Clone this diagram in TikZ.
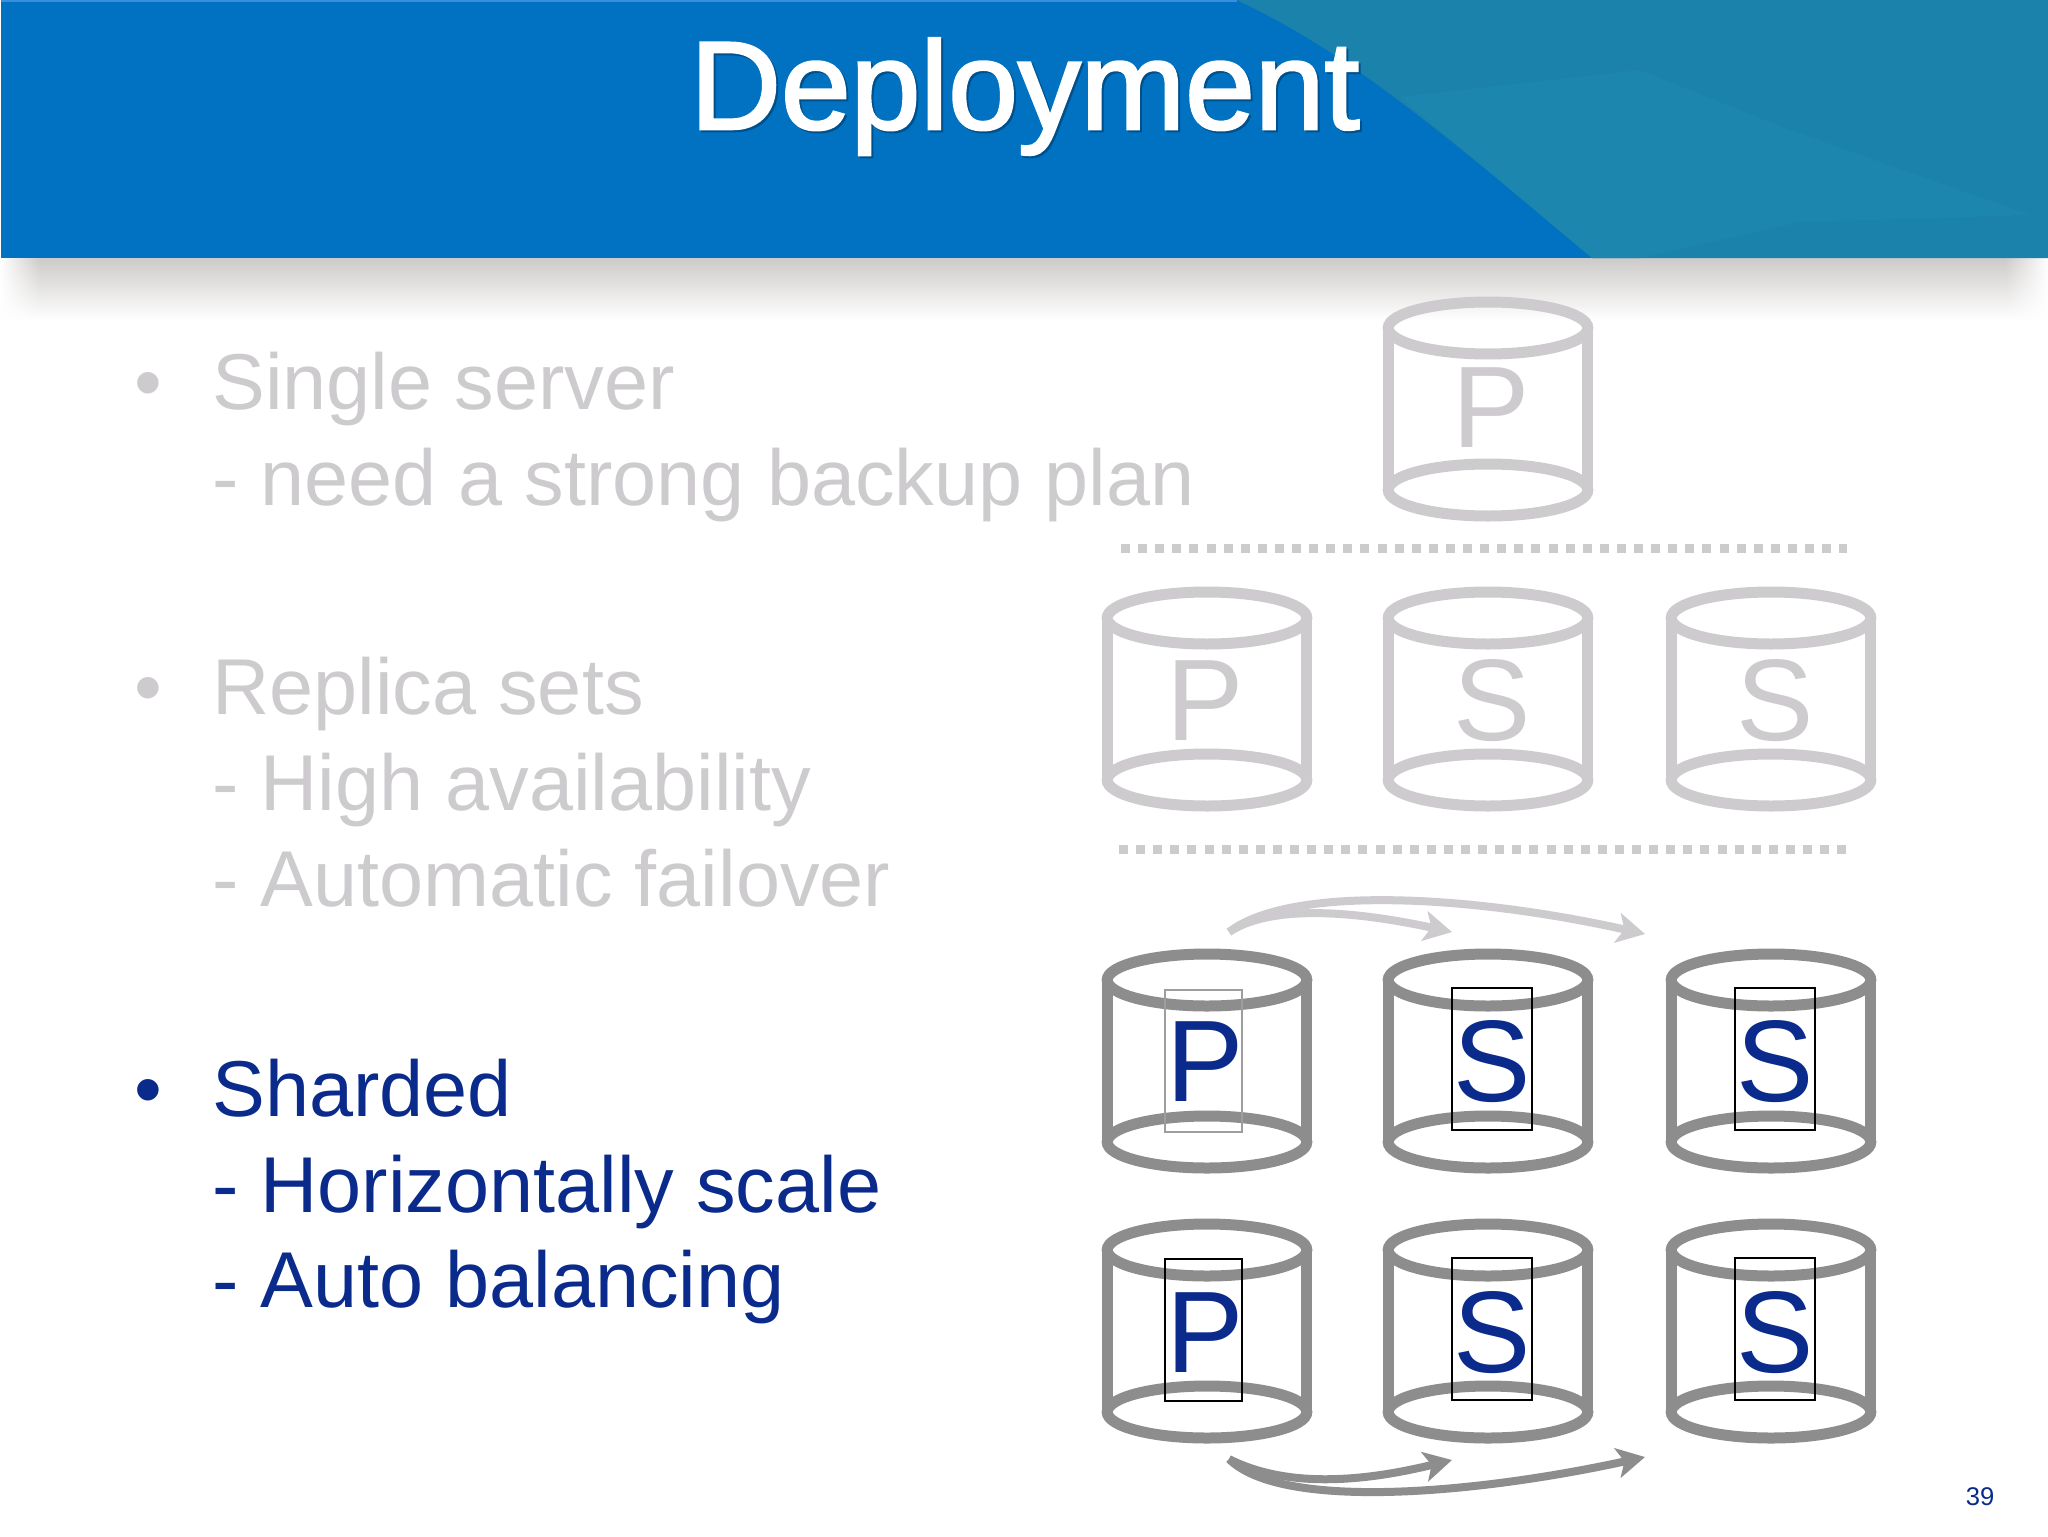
\documentclass[tikz,border=0pt]{standalone}
\usepackage{fontspec}
\setmainfont{Liberation Sans}
\newfontfamily\titlefont[FakeBold=2]{Liberation Sans}
\usetikzlibrary{arrows.meta,fadings}

\definecolor{headblue}{HTML}{0072C1}
\definecolor{headteal}{HTML}{1B83AB}
\definecolor{headtealsoft}{HTML}{1D86AF}
\definecolor{headline}{HTML}{3A8FDC}
\definecolor{titleshade}{HTML}{00508C}
\definecolor{shadegray}{HTML}{CDCBC9}
\definecolor{shademid}{HTML}{E6E5E6}
\definecolor{inkblue}{HTML}{0A2A8C}
\definecolor{faintgray}{HTML}{CDCBCE}
\definecolor{cangray}{HTML}{8E8D8D}

\tikzset{
    dbcan/.pic={
        \draw[pic actions] (0,0) ellipse [x radius=99.8,y radius=26];
        \draw[pic actions] (0,162) ellipse [x radius=99.8,y radius=26];
        \draw[pic actions] (-99.8,0) -- (-99.8,162);
        \draw[pic actions] (99.8,0) -- (99.8,162);
    },
    faintcan/.style={draw=faintgray,line width=5.5pt},
    solidcan/.style={draw=cangray,line width=5.5pt},
    bodyline/.style={anchor=base west,inner sep=0pt,font=\fontsize{39.6}{47}\selectfont},
    canletter/.style={anchor=base,inner sep=0pt,font=\fontsize{58}{66}\selectfont},
    framebox/.style={draw=black,line width=1pt,inner sep=0pt,minimum width=40pt,minimum height=71pt},
    dotline/.style={draw=faintgray,line width=4.25pt,dash pattern=on 4.5pt off 4.05pt},
    fanarrow/.style={line width=4pt,-{Stealth[length=14pt,width=15pt,inset=3.5pt]}}
}

\begin{document}
\begin{tikzpicture}[x=0.5pt,y=-0.5pt]
    \useasboundingbox (0,0) rectangle (2048,1536);
    \fill[white] (0,0) rectangle (2048,1536);

    \shade[top color=shadegray,middle color=shademid,bottom color=white] (0,258) rectangle (2048,320);
    \fill[white,path fading=east] (0,258) rectangle (40,320);
    \fill[white,path fading=west] (2005,258) rectangle (2048,320);
    \fill[headblue] (1,0) rectangle (2048,258);
    \fill[headteal] (1237,0) .. controls (1330,45) and (1400,95) .. (1592,258) -- (2048,258) -- (2048,0) -- cycle;
    \fill[headtealsoft] (1400,97) -- (1640,70) -- (1790,130) -- (2030,215) -- (1800,222) -- (1640,258) -- (1592,258) -- cycle;
    \fill[headline] (1,0) rectangle (1237,2);

    \node[anchor=base,inner sep=0pt,text=titleshade,font=\titlefont\fontsize{62.7}{70}\selectfont] (titleshadow) at (1027,131) {Deployment};
    \node[anchor=base,inner sep=0pt,text=white,font=\titlefont\fontsize{62.7}{70}\selectfont] (title) at (1025,129) {Deployment};

    \node[bodyline,text=faintgray] (bulletA) at (134,409) {•};
    \node[bodyline,text=faintgray] (singleA) at (212,409) {Single server};
    \node[bodyline,text=faintgray] (singleB) at (212,505) {- need a strong backup plan};
    \node[bodyline,text=faintgray] (bulletB) at (134,714) {•};
    \node[bodyline,text=faintgray] (replicaA) at (212,714) {Replica sets};
    \node[bodyline,text=faintgray] (replicaB) at (212,810) {- High availability};
    \node[bodyline,text=faintgray] (replicaC) at (212,906) {- Automatic failover};
    \node[bodyline,text=inkblue] (bulletC) at (134,1116) {•};
    \node[bodyline,text=inkblue] (shardA) at (212,1116) {Sharded};
    \node[bodyline,text=inkblue] (shardB) at (212,1212) {- Horizontally scale};
    \node[bodyline,text=inkblue] (shardC) at (212,1307.5) {- Auto balancing};

    \pic[faintcan] at (1488,328) {dbcan};
    \pic[faintcan] at (1207,618) {dbcan};
    \pic[faintcan] at (1488,618) {dbcan};
    \pic[faintcan] at (1771,618) {dbcan};
    \pic[solidcan] at (1207,980) {dbcan};
    \pic[solidcan] at (1488,980) {dbcan};
    \pic[solidcan] at (1771,980) {dbcan};
    \pic[solidcan] at (1207,1250) {dbcan};
    \pic[solidcan] at (1488,1250) {dbcan};
    \pic[solidcan] at (1771,1250) {dbcan};

    \node[canletter,text=faintgray] (singleP) at (1491,447.5) {P};
    \node[canletter,text=faintgray] (replP) at (1205.5,740) {P};
    \node[canletter,text=faintgray] (replS) at (1492,740) {S};
    \node[canletter,text=faintgray] (replT) at (1775,740) {S};
    \node[canletter,text=inkblue] (upperP) at (1205.5,1101) {P};
    \node[canletter,text=inkblue] (upperS) at (1492,1101) {S};
    \node[canletter,text=inkblue] (upperT) at (1775,1101) {S};
    \node[canletter,text=inkblue] (lowerP) at (1205.5,1372) {P};
    \node[canletter,text=inkblue] (lowerS) at (1492,1372) {S};
    \node[canletter,text=inkblue] (lowerT) at (1775,1372) {S};

    \node[framebox,draw=black!38,minimum width=38.5pt] (boxUP) at (1203.5,1061) {};
    \node[framebox] (boxUS) at (1492,1059) {};
    \node[framebox] (boxUT) at (1775,1059) {};
    \node[framebox,minimum width=38.5pt] (boxLP) at (1203.5,1330) {};
    \node[framebox] (boxLS) at (1492,1329) {};
    \node[framebox] (boxLT) at (1775,1329) {};

    \coordinate (dotAleft) at (1121,548.6);
    \coordinate (dotAright) at (1847,548.6);
    \coordinate (dotBleft) at (1119,849.5);
    \coordinate (dotBright) at (1846,849.5);
    \draw[dotline] (dotAleft) -- (dotAright);
    \draw[dotline] (dotBleft) -- (dotBright);

    \coordinate (topstart) at (1229,932);
    \coordinate (topmid) at (1452,932);
    \coordinate (topend) at (1645,934);
    \draw[fanarrow,draw=faintgray] (topstart) .. controls (1270,905) and (1350,910) .. (topmid);
    \draw[fanarrow,draw=faintgray] (topstart) .. controls (1290,885) and (1470,895) .. (topend);

    \coordinate (lowstart) at (1229,1459);
    \coordinate (lowmid) at (1452,1460);
    \coordinate (lowend) at (1645,1457);
    \draw[fanarrow,draw=cangray] (lowstart) .. controls (1290,1490) and (1370,1480) .. (lowmid);
    \draw[fanarrow,draw=cangray] (lowstart) .. controls (1280,1510) and (1470,1495) .. (lowend);

    \node[anchor=base,inner sep=0pt,text=inkblue,font=\fontsize{12.8}{15}\selectfont] (pagenum) at (1980,1505) {39};
\end{tikzpicture}
\end{document}
